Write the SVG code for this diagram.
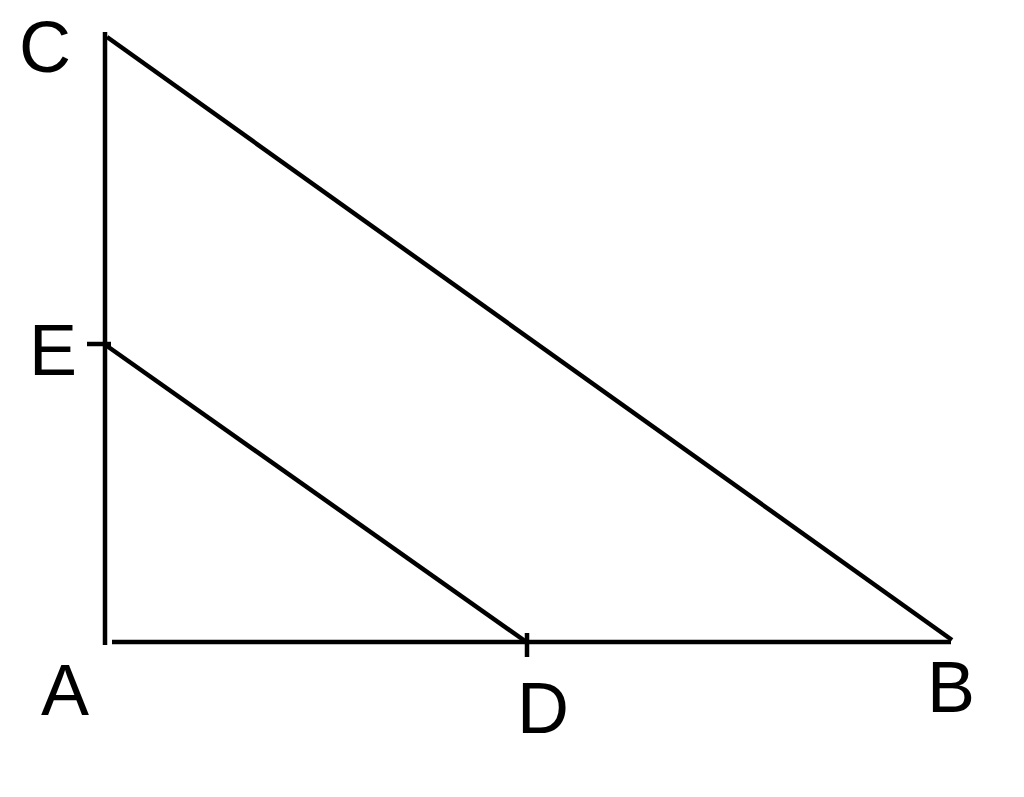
<svg xmlns="http://www.w3.org/2000/svg" width="1024" height="797" viewBox="0 0 1024 797">
<style>
.ln{stroke:#000;stroke-width:4.5;fill:none;stroke-linecap:butt}
.lb{font-family:"Liberation Sans",Arial,sans-serif;font-size:72px;fill:#000}
</style>
<rect width="1024" height="797" fill="#fff"/>
<g id="connectors">
<line class="ln" x1="105" y1="32" x2="105" y2="645"/>
<line class="ln" x1="112" y1="642" x2="951" y2="642"/>
<line class="ln" x1="107" y1="37" x2="952" y2="640"/>
<line class="ln" x1="107" y1="346" x2="525" y2="641"/>
<line class="ln" x1="87" y1="344" x2="111" y2="344"/>
<line class="ln" x1="527" y1="633" x2="527" y2="657"/>
</g>
<g id="C"><text class="lb" x="19" y="72">C</text></g>
<g id="E"><text class="lb" x="29" y="375">E</text></g>
<g id="A"><text class="lb" x="41" y="715">A</text></g>
<g id="D"><text class="lb" x="517" y="733">D</text></g>
<g id="B"><text class="lb" x="927" y="712">B</text></g>
</svg>
